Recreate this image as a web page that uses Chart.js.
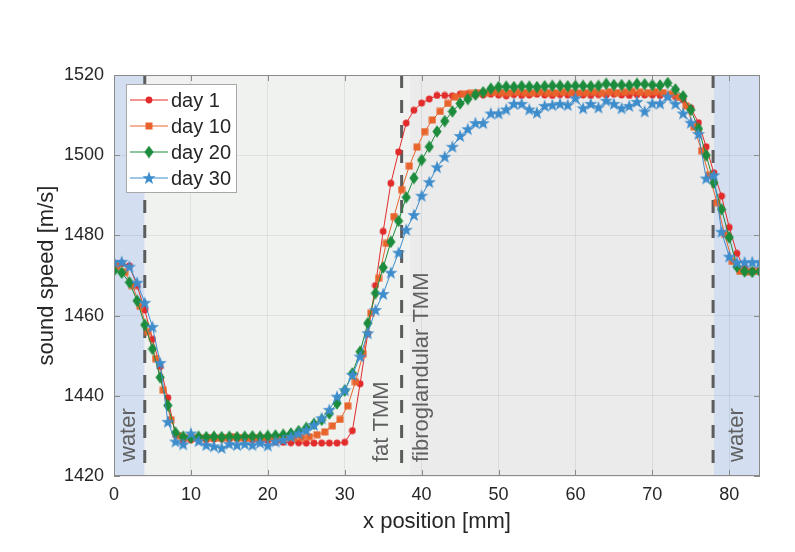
<!DOCTYPE html>
<html>
<head>
<meta charset="utf-8">
<script src="https://cdn.jsdelivr.net/npm/chart.js@4.4.1/dist/chart.umd.min.js"></script>
<style>
  html, body { margin: 0; padding: 0; background: #fff; }
  canvas { display: block; }
</style>
</head>
<body>
<canvas id="chart" width="795" height="552"></canvas>
<script>
// --- data ---
const xMm = [0,1,2,3,4,5,6,7,8,9,10,11,12,13,14,15,16,17,18,19,20,21,22,23,24,25,26,27,28,29,
  30,31,32,33,34,35,36,37,38,39,40,41,42,43,44,45,46,47,48,49,50,51,52,53,54,55,56,57,58,59,
  60,61,62,63,64,65,66,67,68,69,70,71,72,73,74,75,76,77,78,79,80,81,82,83,84];
// day 10 was sampled about half a step to the right
const xMmDay10 = [0.4,1.4,2.4,3.4,4.4,5.4,6.4,7.4,8.4,9.4,10.4,11.4,12.4,13.4,14.4,15.4,16.4,17.4,18.4,19.4,
  20.4,21.4,22.4,23.4,24.4,25.4,26.4,27.4,28.4,29.4,30.4,31.4,32.4,33.4,34.4,35.4,36.4,37.4,38.4,39.4,
  40.4,41.4,42.4,43.4,44.4,45.4,46.4,47.4,48.4,49.4,50.4,51.4,52.4,53.4,54.4,55.4,56.4,57.4,58.4,59.4,
  60.4,61.4,62.4,63.4,64.4,65.4,66.4,67.4,68.4,69.4,70.4,71.4,72.4,73.4,74.4,75.4,76.4,77.4,78.4,79.4,
  80.4,81.4,82.4,83.4];

const day1 = [1473.0,1473.0,1472.4,1467.5,1461.4,1454.1,1447.3,1439.5,1430.2,1428.8,
  1429.0,1429.2,1429.0,1429.2,1429.3,1429.2,1429.3,1429.2,1429.0,1428.8,
  1428.8,1428.5,1428.4,1428.3,1428.3,1428.2,1428.2,1428.2,1428.2,1428.2,
  1428.4,1431.3,1443.0,1455.5,1467.5,1481.0,1493.0,1500.8,1508.0,1511.2,
  1513.0,1514.0,1514.9,1514.9,1514.8,1515.2,1515.3,1515.0,1515.0,1515.2,
  1515.0,1514.8,1515.1,1514.9,1515.0,1515.2,1515.0,1514.9,1515.1,1515.0,
  1515.2,1515.0,1514.9,1515.1,1515.0,1515.2,1515.0,1514.9,1515.1,1515.0,
  1515.0,1514.9,1514.8,1514.6,1513.8,1511.8,1508.1,1502.1,1495.6,1489.8,
  1482.0,1475.5,1471.8,1471.2,1471.2];

const day10 = [1472.2,1470.8,1467.5,1462.3,1456.0,1449.3,1441.4,1434.0,1430.0,1429.5,
  1429.4,1429.5,1429.6,1429.5,1429.6,1429.8,1429.6,1429.5,1429.6,1429.5,
  1429.4,1429.5,1429.6,1429.5,1429.6,1429.8,1430.3,1431.0,1432.5,1434.1,
  1437.5,1443.5,1450.5,1460.6,1469.3,1478.0,1484.7,1491.4,1497.3,1502.0,
  1505.9,1508.8,1510.9,1512.9,1514.5,1515.2,1515.4,1515.6,1515.5,1515.7,
  1515.6,1515.5,1515.7,1515.6,1515.5,1515.7,1515.6,1515.5,1515.7,1515.6,
  1515.5,1515.6,1515.7,1515.5,1515.8,1515.6,1515.7,1515.9,1515.7,1515.6,
  1515.8,1515.6,1515.2,1514.4,1512.3,1507.1,1501.1,1495.0,1488.2,1480.3,
  1473.5,1471.0,1470.9,1471.0];

const day20 = [1471.2,1470.7,1468.3,1463.7,1457.7,1451.7,1444.6,1437.6,1430.8,1429.8,
  1429.6,1429.8,1429.7,1429.8,1429.7,1429.8,1429.7,1429.8,1429.9,1429.8,
  1430.0,1430.1,1430.3,1430.6,1431.2,1432.0,1433.0,1434.0,1435.6,1438.1,
  1441.3,1445.6,1451.0,1458.1,1465.6,1472.0,1478.4,1483.6,1489.5,1494.3,
  1498.8,1502.1,1505.9,1508.5,1510.9,1512.9,1514.0,1515.1,1515.7,1516.6,
  1517.0,1517.1,1517.0,1517.2,1517.1,1517.0,1517.2,1517.3,1517.3,1517.2,
  1517.3,1517.3,1517.2,1517.3,1517.8,1517.5,1517.5,1517.4,1517.8,1517.7,
  1517.5,1517.4,1518.0,1516.4,1514.7,1511.3,1506.6,1500.0,1493.1,1486.5,
  1479.5,1472.2,1471.0,1470.9,1471.0];

const day30 = [1473.4,1473.4,1472.2,1468.2,1463.2,1457.2,1448.2,1433.5,1428.6,1427.9,
  1430.6,1428.7,1427.7,1427.4,1427.0,1428.0,1427.7,1428.0,1427.7,1428.3,
  1427.6,1428.6,1429.0,1429.8,1430.6,1431.4,1432.7,1434.4,1436.5,1439.8,
  1441.4,1445.2,1449.8,1455.6,1461.4,1465.4,1470.7,1475.7,1481.4,1485.1,
  1489.9,1493.3,1497.0,1499.6,1502.1,1504.8,1506.5,1508.0,1508.0,1510.4,
  1510.4,1511.4,1512.8,1512.8,1511.4,1510.6,1512.3,1512.5,1512.8,1512.5,
  1514.2,1511.7,1512.8,1511.9,1513.6,1512.8,1511.7,1512.3,1513.3,1510.9,
  1512.9,1512.9,1514.6,1512.8,1510.4,1508.1,1505.3,1494.2,1495.0,1480.9,
  1474.7,1473.2,1473.3,1473.3,1473.3];

const seriesLabels = ['day 1', 'day 10', 'day 20', 'day 30'];
const xTicks = [0, 10, 20, 30, 40, 50, 60, 70, 80];
const yTicks = [1420, 1440, 1460, 1480, 1500, 1520];

// material regions along x [mm]
const regionFrom = [0, 4, 38.5, 78];
const regionTo = [4, 38.5, 78, 84];
const regionKind = ['water', 'fat', 'fibro', 'water'];
const boundaries = [4, 37.4, 77.9];
const regionText = ['water', 'fat TMM', 'fibroglandular TMM', 'water'];
const regionTextX = [2, 34.8, 40.0, 81.0];

// --- styles ---
const FONT = "'Liberation Sans', Arial, Helvetica, sans-serif";
const regionColors = { water: '#d3dff0', fat: '#f0f2f0', fibro: '#ebebeb' };
const colors = ['#e22b2b', '#e8642c', '#1c8c3c', '#3d8ccb'];

function makeMarker(w, h, draw) {
    const c = document.createElement('canvas');
    c.width = w; c.height = h;
    const g = c.getContext('2d');
    draw(g);
    return c;
}
const markerCircle = makeMarker(8, 8, g => {
    g.fillStyle = colors[0]; g.beginPath(); g.arc(4, 4, 3.4, 0, Math.PI * 2); g.fill();
});
const markerSquare = makeMarker(8, 8, g => {
    g.fillStyle = colors[1]; g.fillRect(0.5, 0.5, 7, 7);
});
const markerDiamond = makeMarker(10, 13, g => {
    g.fillStyle = colors[2]; g.beginPath();
    g.moveTo(5, 0.3); g.lineTo(9.6, 6.5); g.lineTo(5, 12.7); g.lineTo(0.4, 6.5); g.closePath(); g.fill();
});
const markerStar = makeMarker(14, 14, g => {
    g.fillStyle = colors[3]; g.beginPath();
    for (let i = 0; i < 10; i++) {
        const r = i % 2 === 0 ? 6.9 : 2.8;
        const a = -Math.PI / 2 + i * Math.PI / 5;
        const px = 7 + r * Math.cos(a), py = 7.4 + r * Math.sin(a);
        if (i === 0) g.moveTo(px, py); else g.lineTo(px, py);
    }
    g.closePath(); g.fill();
});
const markers = [markerCircle, markerSquare, markerDiamond, markerStar];

const toPoints = (xs, ys) => xs.map((x, i) => ({ x, y: ys[i] }));
const seriesData = [toPoints(xMm, day1), toPoints(xMmDay10, day10), toPoints(xMm, day20), toPoints(xMm, day30)];

const datasets = seriesLabels.map((label, i) => ({
    label,
    data: seriesData[i],
    borderColor: colors[i],
    backgroundColor: colors[i],
    borderWidth: 1,
    pointStyle: markers[i],
    pointRadius: 4,
    pointHoverRadius: 4,
    tension: 0,
    order: 4 - i,
}));

// backgrounds, dashed boundaries, labels, box with inward ticks, legend
const decorations = {
    id: 'decorations',
    beforeDraw(chart) {
        const { ctx, chartArea: a, scales: { x } } = chart;
        ctx.save();
        regionFrom.forEach((f, i) => {
            const x0 = x.getPixelForValue(f), x1 = x.getPixelForValue(regionTo[i]);
            ctx.fillStyle = regionColors[regionKind[i]];
            ctx.fillRect(x0, a.top, x1 - x0, a.bottom - a.top);
        });
        ctx.restore();
    },
    beforeDatasetsDraw(chart) {
        const { ctx, chartArea: a, scales: { x } } = chart;
        ctx.save();
        ctx.strokeStyle = '#5c5c5c';
        ctx.lineWidth = 3;
        ctx.setLineDash([13, 12]);
        boundaries.forEach(b => {
            const px = x.getPixelForValue(b);
            ctx.beginPath(); ctx.moveTo(px, a.top); ctx.lineTo(px, a.bottom); ctx.stroke();
        });
        ctx.setLineDash([]);
        ctx.fillStyle = '#606060';
        ctx.font = `22px ${FONT}`;
        ctx.textAlign = 'left';
        ctx.textBaseline = 'middle';
        regionText.forEach((t, i) => {
            ctx.save();
            ctx.translate(x.getPixelForValue(regionTextX[i]), a.bottom - 14);
            ctx.rotate(-Math.PI / 2);
            ctx.fillText(t, 0, 0);
            ctx.restore();
        });
        ctx.restore();
    },
    afterDatasetsDraw(chart) {
        const { ctx, chartArea: a, scales: { x, y } } = chart;
        ctx.save();
        ctx.strokeStyle = '#8a8a8a';
        ctx.lineWidth = 1;
        ctx.strokeRect(a.left + 0.5, a.top + 0.5, a.right - a.left - 1, a.bottom - a.top - 1);
        ctx.beginPath();
        xTicks.forEach(v => {
            const px = Math.round(x.getPixelForValue(v)) + 0.5;
            ctx.moveTo(px, a.bottom); ctx.lineTo(px, a.bottom - 6);
            ctx.moveTo(px, a.top); ctx.lineTo(px, a.top + 6);
        });
        yTicks.forEach(v => {
            const py = Math.round(y.getPixelForValue(v)) + 0.5;
            ctx.moveTo(a.left, py); ctx.lineTo(a.left + 6, py);
            ctx.moveTo(a.right, py); ctx.lineTo(a.right - 6, py);
        });
        ctx.stroke();

        // legend box in the upper left of the axes
        const lx = a.left + 12, ly = a.top + 9, lw = 110, lh = 108;
        ctx.fillStyle = '#ffffff';
        ctx.fillRect(lx, ly, lw, lh);
        ctx.strokeStyle = '#a8a8a8';
        ctx.strokeRect(lx + 0.5, ly + 0.5, lw, lh);
        ctx.font = `20px ${FONT}`;
        ctx.textAlign = 'left';
        ctx.textBaseline = 'middle';
        chart.data.datasets.forEach((ds, i) => {
            const ry = ly + 16 + i * 26;
            ctx.strokeStyle = ds.borderColor;
            ctx.lineWidth = 1;
            ctx.beginPath(); ctx.moveTo(lx + 4, ry); ctx.lineTo(lx + 42, ry); ctx.stroke();
            const m = ds.pointStyle;
            ctx.drawImage(m, lx + 23 - m.width / 2, ry - m.height / 2);
            ctx.fillStyle = '#262626';
            ctx.fillText(ds.label, lx + 45, ry + 1);
        });
        ctx.restore();
    },
};

new Chart(document.getElementById('chart'), {
    type: 'line',
    data: { datasets },
    plugins: [decorations],
    options: {
        responsive: false,
        animation: false,
        events: [],
        layout: { padding: { top: 75, right: 35, left: 0, bottom: 0 } },
        plugins: { legend: { display: false }, tooltip: { enabled: false } },
        scales: {
            x: {
                type: 'linear',
                min: 0,
                max: 84,
                afterBuildTicks: (s) => { s.ticks = xTicks.map(v => ({ value: v })); },
                afterFit: (s) => { s.height = 76; },
                grid: { color: 'rgba(0,0,0,0.07)', drawTicks: false },
                border: { display: false },
                ticks: { color: '#262626', font: { family: FONT, size: 18 }, padding: 8, maxRotation: 0,
                         callback: (v) => String(v) },
                title: { display: true, text: 'x position [mm]', color: '#262626',
                         font: { family: FONT, size: 22 }, padding: { top: 0, bottom: 17 } },
            },
            y: {
                type: 'linear',
                min: 1420,
                max: 1520,
                afterBuildTicks: (s) => { s.ticks = yTicks.map(v => ({ value: v })); },
                afterFit: (s) => { s.width = 114; },
                grid: { color: 'rgba(0,0,0,0.07)', drawTicks: false },
                border: { display: false },
                ticks: { color: '#262626', font: { family: FONT, size: 18 }, padding: 10,
                         callback: (v) => String(v) },
                title: { display: true, text: 'sound speed [m/s]', color: '#262626',
                         font: { family: FONT, size: 22 }, padding: { top: 34, bottom: 0 } },
            },
        },
    },
});
</script>
</body>
</html>
